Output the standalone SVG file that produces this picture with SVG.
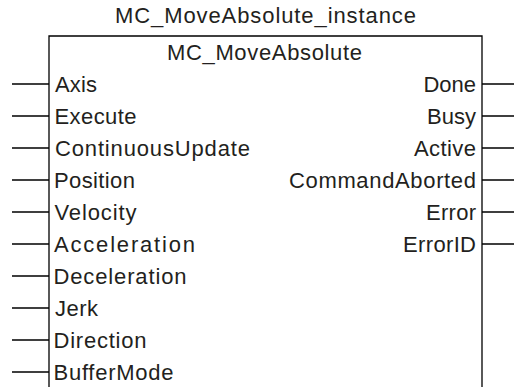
<svg xmlns="http://www.w3.org/2000/svg" width="514" height="387" viewBox="0 0 514 387">
<style>
text{font-family:"Liberation Sans",Arial,sans-serif;font-size:22px;fill:#231f20}
.r{text-anchor:end}
.ln{stroke:#000;stroke-width:1.3;fill:none}
</style>
<rect width="514" height="387" fill="#fff"/>
<g id="instance-title"><text x="115" y="23" textLength="301" lengthAdjust="spacing">MC_MoveAbsolute_instance</text></g>
<g id="block">
<path class="ln" d="M49,387 V36 H482 V387"/>
<text x="167" y="60" textLength="195" lengthAdjust="spacing">MC_MoveAbsolute</text>
</g>
<g id="connectors" class="ln">
<path d="M12,84H49M12,116H49M12,148H49M12,180H49M12,212H49M12,244H49M12,276H49M12,308H49M12,340H49M12,372H49"/>
<path d="M482,84H514M482,116H514M482,148H514M482,180H514M482,212H514M482,244H514"/>
</g>
<g id="inputs">
<text x="55" y="92" textLength="42" lengthAdjust="spacing">Axis</text>
<text x="54.5" y="124" textLength="82" lengthAdjust="spacing">Execute</text>
<text x="55" y="156" textLength="195" lengthAdjust="spacing">ContinuousUpdate</text>
<text x="54" y="188" textLength="81" lengthAdjust="spacing">Position</text>
<text x="54.5" y="220" textLength="82" lengthAdjust="spacing">Velocity</text>
<text x="54" y="252" textLength="141" lengthAdjust="spacing">Acceleration</text>
<text x="53.5" y="284" textLength="133" lengthAdjust="spacing">Deceleration</text>
<text x="55" y="316" textLength="43" lengthAdjust="spacing">Jerk</text>
<text x="53.5" y="348" textLength="93" lengthAdjust="spacing">Direction</text>
<text x="53.5" y="380" textLength="120" lengthAdjust="spacing">BufferMode</text>
</g>
<g id="outputs">
<text class="r" x="476" y="92">Done</text>
<text class="r" x="476" y="124">Busy</text>
<text class="r" x="476" y="156" textLength="62" lengthAdjust="spacing">Active</text>
<text class="r" x="476" y="188" textLength="187" lengthAdjust="spacing">CommandAborted</text>
<text class="r" x="476" y="220" textLength="50" lengthAdjust="spacing">Error</text>
<text class="r" x="476" y="252" textLength="73" lengthAdjust="spacing">ErrorID</text>
</g>
</svg>
